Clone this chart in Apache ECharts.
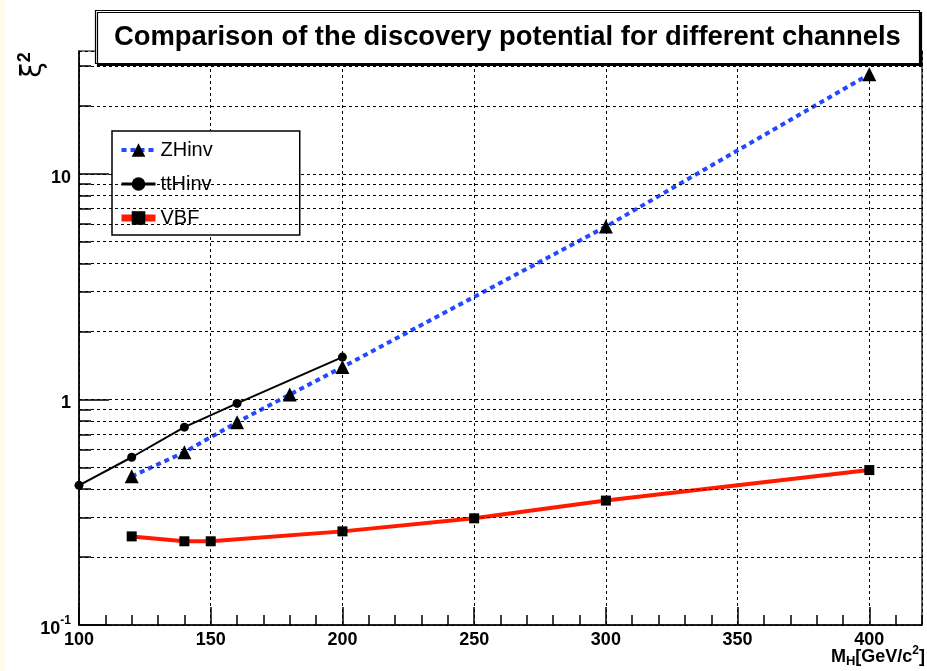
<!DOCTYPE html>
<html>
<head>
<meta charset="utf-8">
<script src="https://cdn.jsdelivr.net/npm/echarts@6/dist/echarts.min.js"></script>
<style>
html,body{margin:0;padding:0;background:#fff;}
#main{width:927px;height:671px;}
</style>
</head>
<body>
<div id="main"></div>
<script>
// ---- data ----
const massZH = [120, 140, 160, 180, 200, 300, 400];
const xiZH   = [0.456, 0.583, 0.792, 1.05, 1.39, 5.83, 27.6];
const massTT = [100, 120, 140, 160, 200];
const xiTT   = [0.416, 0.554, 0.753, 0.96, 1.54];
const massVBF = [120, 140, 150, 200, 250, 300, 400];
const xiVBF   = [0.247, 0.235, 0.235, 0.26, 0.297, 0.356, 0.486];
const seriesNames = ['ZHinv', 'ttHinv', 'VBF'];
const yMinorTicks = [0.2, 0.3, 0.4, 0.5, 0.6, 0.7, 0.8, 0.9, 2, 3, 4, 5, 6, 7, 8, 9, 20, 30];
const titleText = 'Comparison of the discovery potential for different channels';

// ---- axis ranges / layout ----
const X_MIN = 100, X_MAX = 420, Y_MIN = 0.1, Y_MAX = 35;
const GRID = {left: 79, right: 5, top: 51, bottom: 46};
const FONT = '"Liberation Sans", Arial, Helvetica, sans-serif';
const plotW = 927 - GRID.left - GRID.right;
const minorTickUnits = 12 * (X_MAX - X_MIN) / plotW;

const pair = (xs, ys) => xs.map((x, i) => [x, ys[i]]);

const chart = echarts.init(document.getElementById('main'), null, {renderer: 'canvas'});

const gridDash = [3, 3];
const minorLines = yMinorTicks.map(v => [
    {coord: [X_MIN, v]},
    {coord: [X_MAX, v]}
  ]).concat(yMinorTicks.map(v => [
    {coord: [X_MIN, v], lineStyle: {type: 'solid', width: 1.5, color: '#000'}},
    {coord: [X_MIN + minorTickUnits, v]}
  ]));

const option = {
  backgroundColor: '#fff',
  animation: false,
  textStyle: {fontFamily: FONT},
  title: {
    text: titleText,
    left: 95,
    top: 10,
    padding: [14, 19, 13, 19],
    backgroundColor: '#fff',
    borderColor: '#000',
    borderWidth: 1.2,
    shadowColor: '#000',
    shadowOffsetX: 2,
    shadowOffsetY: 2,
    shadowBlur: 0,
    textStyle: {fontFamily: FONT, fontWeight: 'bold', fontSize: 27.4, color: '#000'}
  },
  legend: {
    data: [
      {name: seriesNames[0], lineStyle: {width: 4}},
      {name: seriesNames[1], lineStyle: {width: 3}},
      {name: seriesNames[2], lineStyle: {width: 7}}
    ],
    orient: 'vertical',
    left: 112,
    top: 131,
    padding: [9, 87, 7, 6],
    itemGap: 14,
    itemWidth: 34,
    itemHeight: 17,
    backgroundColor: '#fff',
    borderColor: '#000',
    borderWidth: 1.5,
    textStyle: {fontFamily: FONT, fontSize: 20, color: '#000'},
    selectedMode: false
  },
  grid: {
    left: GRID.left, right: GRID.right, top: GRID.top, bottom: GRID.bottom,
    show: true, borderColor: '#000', borderWidth: 1.2, backgroundColor: 'transparent',
    containLabel: false, outerBoundsMode: 'none'
  },
  xAxis: [{
    type: 'value', position: 'bottom', min: X_MIN, max: X_MAX, interval: 50,
    axisLine: {show: true, onZero: false, lineStyle: {color: '#000', width: 1.5}},
    axisTick: {show: true, inside: true, length: 18, lineStyle: {color: '#000', width: 1.5}},
    axisLabel: {show: true, margin: 6, showMinLabel: true, showMaxLabel: false,
      fontFamily: FONT, fontWeight: 'bold', fontSize: 18, color: '#000'},
    splitLine: {show: true, lineStyle: {color: '#000', width: 1, type: gridDash}}
  }, {
    type: 'value', position: 'bottom', min: X_MIN, max: X_MAX, interval: 10,
    axisLine: {show: false, onZero: false},
    axisTick: {show: true, inside: true, length: 10, lineStyle: {color: '#000', width: 1.5}},
    axisLabel: {show: false},
    splitLine: {show: false}
  }],
  yAxis: {
    type: 'log', logBase: 10, min: Y_MIN, max: Y_MAX,
    axisLine: {show: true, onZero: false, lineStyle: {color: '#000', width: 1.5}},
    axisTick: {show: true, inside: true, length: 30, lineStyle: {color: '#000', width: 1.5}},
    axisLabel: {
      show: true, margin: 8, showMinLabel: true, showMaxLabel: false,
      fontFamily: FONT, fontWeight: 'bold', fontSize: 18, color: '#000',
      formatter: function (v) {
        if (Math.abs(v - 0.1) < 1e-9) return '{b|10}{s|-1}';
        if (Math.abs(v - 1) < 1e-9) return '{b|1}';
        if (Math.abs(v - 10) < 1e-9) return '{b|10}';
        return '';
      },
      rich: {
        b: {fontFamily: FONT, fontWeight: 'bold', fontSize: 18, color: '#000', padding: [8, 0, 0, 0]},
        s: {fontFamily: FONT, fontWeight: 'bold', fontSize: 12, color: '#000', padding: [0, 0, 8, 0]}
      }
    },
    splitLine: {show: true, lineStyle: {color: '#000', width: 1, type: gridDash}}
  },
  graphic: [
    {type: 'rect', left: 0, top: 0, shape: {width: 5, height: 671}, style: {fill: '#fffaea'}, silent: true, z: -10},
    {
      type: 'text', x: 31, y: 65, rotation: Math.PI / 2, silent: true,
      style: {
        text: '{x|ξ}{t|2}', align: 'center', verticalAlign: 'middle',
        rich: {
          x: {fontFamily: '"DejaVu Sans", sans-serif', fontSize: 28, color: '#1a1a40', padding: [6, 0, 0, 0]},
          t: {fontFamily: FONT, fontWeight: 'bold', fontSize: 18, color: '#000', padding: [0, 0, 12, 0]}
        }
      }
    },
    {
      type: 'text', right: 2, top: 645, silent: true,
      style: {
        text: '{m|M}{h|H}{m|[GeV/c}{p|2}{m|]}',
        rich: {
          m: {fontFamily: FONT, fontWeight: 'bold', fontSize: 18, color: '#000', padding: [6, 0, 0, 0]},
          h: {fontFamily: FONT, fontWeight: 'bold', fontSize: 13, color: '#000', padding: [14, 0, 0, 0]},
          p: {fontFamily: FONT, fontWeight: 'bold', fontSize: 12, color: '#000', padding: [0, 0, 6, 0]}
        }
      }
    }
  ],
  series: [
    {
      name: '_minorgrid', type: 'line', data: [], silent: true, z: 1, clip: false,
      markLine: {
        silent: true, animation: false, symbol: ['none', 'none'],
        label: {show: false},
        emphasis: {disabled: true},
        lineStyle: {color: '#000', width: 1, type: gridDash},
        data: minorLines
      }
    },
    {
      name: seriesNames[0], type: 'line', z: 4, data: pair(massZH, xiZH),
      symbol: 'triangle', symbolSize: 14,
      itemStyle: {color: '#000'},
      lineStyle: {color: '#2348ff', width: 4, type: [5, 4]},
      emphasis: {disabled: true}
    },
    {
      name: seriesNames[1], type: 'line', z: 5, data: pair(massTT, xiTT),
      symbol: 'circle', symbolSize: 9,
      itemStyle: {color: '#000'},
      lineStyle: {color: '#000', width: 2},
      emphasis: {disabled: true}
    },
    {
      name: seriesNames[2], type: 'line', z: 3, data: pair(massVBF, xiVBF),
      symbol: 'rect', symbolSize: 10,
      itemStyle: {color: '#000'},
      lineStyle: {color: '#ff1a00', width: 4},
      emphasis: {disabled: true}
    }
  ]
};
chart.setOption(option);
</script>
</body>
</html>
